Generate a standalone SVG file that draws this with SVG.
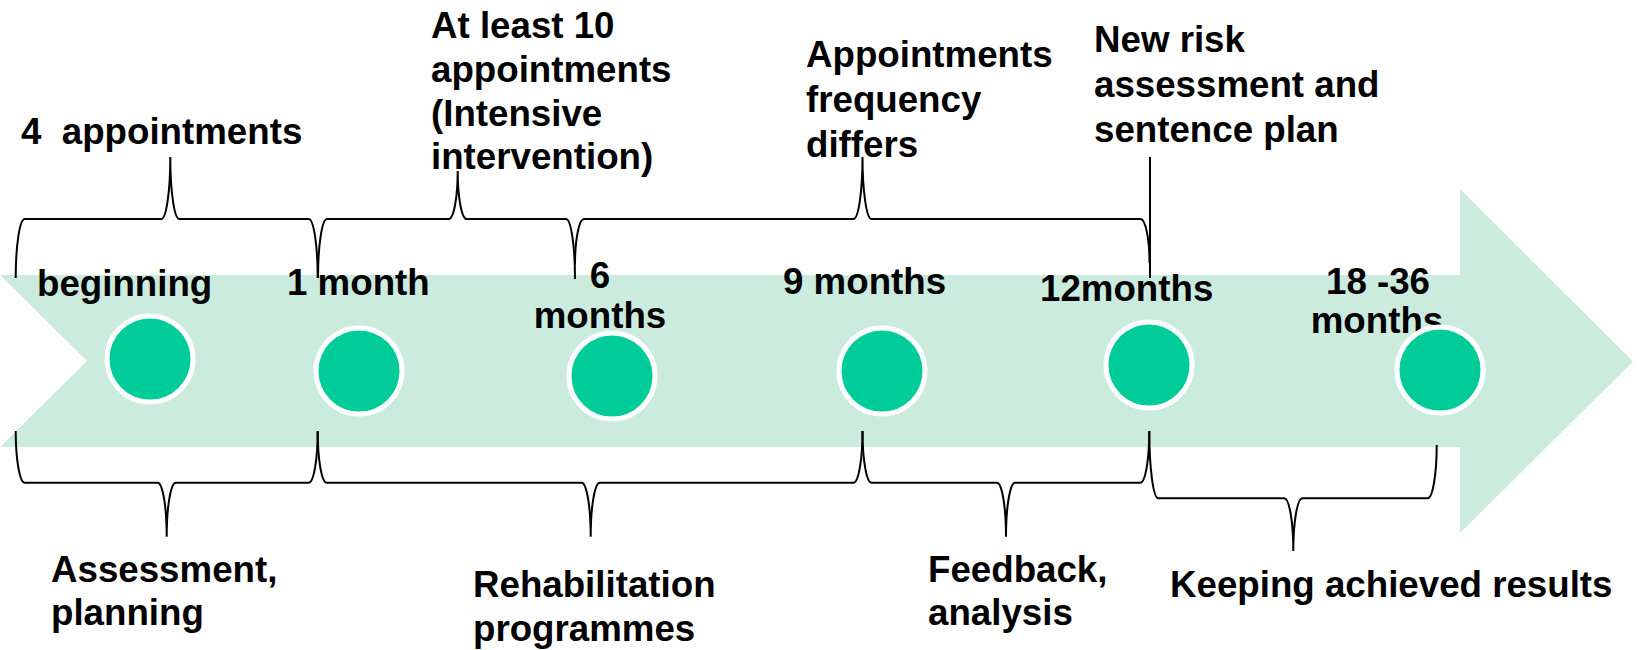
<svg xmlns="http://www.w3.org/2000/svg" width="1640" height="650" viewBox="0 0 1640 650">
  <style>
    .t { font-family: "Liberation Sans", Arial, sans-serif; font-weight: bold; font-size: 36.7px; fill: #000; white-space: pre; }
    .m { text-anchor: middle; }
    .dot { fill: #00CC99; stroke: #FFFFFF; stroke-width: 5; }
    .br { fill: none; stroke: #000; stroke-width: 2; }
  </style>
  <rect width="1640" height="650" fill="#FFFFFF"/>
  <g id="timeline-arrow">
    <polygon points="0,275 1460,275 1460,189 1633,361.5 1460,533 1460,447 0,447 87,361" fill="#CCEBDF"/>
  </g>

  <g id="node-beginning">
    <text class="t" x="37" y="296">beginning</text>
    <circle class="dot" cx="150" cy="359" r="43"/>
  </g>
  <g id="node-1month">
    <text class="t" x="287" y="295">1 month</text>
    <circle class="dot" cx="359" cy="371" r="43"/>
  </g>
  <g id="node-6months">
    <text class="t m" x="600" y="288">6</text>
    <text class="t m" x="600" y="328">months</text>
    <circle class="dot" cx="612" cy="376" r="43"/>
  </g>
  <g id="node-9months">
    <text class="t" x="783" y="294">9 months</text>
    <circle class="dot" cx="882" cy="371" r="43"/>
  </g>
  <g id="node-12months">
    <text class="t" x="1040" y="301">12months</text>
    <circle class="dot" cx="1149" cy="365" r="43"/>
  </g>
  <g id="node-18-36months">
    <text class="t m" x="1378" y="294">18 -36</text>
    <text class="t m" x="1377" y="333">months</text>
    <circle class="dot" cx="1440" cy="370" r="43"/>
  </g>

  <g id="label-4-appointments">
    <text class="t" x="21" y="144" xml:space="preserve">4  appointments</text>
  </g>
  <g id="label-at-least-10">
    <text class="t" x="431" y="38">At least 10</text>
    <text class="t" x="431" y="82">appointments</text>
    <text class="t" x="431" y="126">(Intensive</text>
    <text class="t" x="431" y="169">intervention)</text>
  </g>
  <g id="label-frequency">
    <text class="t" x="806" y="67">Appointments</text>
    <text class="t" x="806" y="112">frequency</text>
    <text class="t" x="806" y="157">differs</text>
  </g>
  <g id="label-new-risk">
    <text class="t" x="1094" y="52">New risk</text>
    <text class="t" x="1094" y="97">assessment and</text>
    <text class="t" x="1094" y="142">sentence plan</text>
  </g>
  <g id="label-assessment">
    <text class="t" x="51" y="582">Assessment,</text>
    <text class="t" x="51" y="625">planning</text>
  </g>
  <g id="label-rehabilitation">
    <text class="t" x="473" y="597">Rehabilitation</text>
    <text class="t" x="473" y="641">programmes</text>
  </g>
  <g id="label-feedback">
    <text class="t" x="928" y="582">Feedback,</text>
    <text class="t" x="928" y="625">analysis</text>
  </g>
  <g id="label-keeping">
    <text class="t" x="1170" y="597">Keeping achieved results</text>
  </g>

  <g id="connectors">
    <path class="br" d="M 15.7,278 A 9,59 0 0 1 24.7,219 L 161.3,219 A 9,62 0 0 0 170.3,157 A 9,62 0 0 0 179.3,219 L 308.7,219 A 9,59 0 0 1 317.7,278"/>
    <path class="br" d="M 318,278 A 9,59 0 0 1 327,219 L 448.7,219 A 9,48 0 0 0 457.7,171 A 9,48 0 0 0 466.7,219 L 566,219 A 9,60 0 0 1 575,279"/>
    <path class="br" d="M 575,265 A 9,46 0 0 1 584,219 L 853.5,219 A 9,62 0 0 0 862.5,157 A 9,62 0 0 0 871.5,219 L 1140.5,219 A 9,44 0 0 1 1149.5,263"/>
    <path class="br" d="M 1150,157 L 1150,278"/>
    <path class="br" d="M 15.7,431 A 9,51.7 0 0 0 24.7,482.7 L 157.7,482.7 A 9,54 0 0 1 166.7,536.7 A 9,54 0 0 1 175.7,482.7 L 308.7,482.7 A 9,51.7 0 0 0 317.7,431"/>
    <path class="br" d="M 317.7,431 A 9,51.7 0 0 0 326.7,482.7 L 581.7,482.7 A 9,54 0 0 1 590.7,536.7 A 9,54 0 0 1 599.7,482.7 L 853.5,482.7 A 9,51.7 0 0 0 862.5,431"/>
    <path class="br" d="M 862.5,431 A 9,51.7 0 0 0 871.5,482.7 L 997,482.7 A 9,54 0 0 1 1006,536.7 A 9,54 0 0 1 1015,482.7 L 1140.3,482.7 A 9,51.7 0 0 0 1149.3,431"/>
    <path class="br" d="M 1149.3,431 A 9,67.3 0 0 0 1158.3,498.3 L 1284.3,498.3 A 9,52.7 0 0 1 1293.3,551 A 9,52.7 0 0 1 1302.3,498.3 L 1427.7,498.3 A 9,53.3 0 0 0 1436.7,445"/>
  </g>
</svg>
